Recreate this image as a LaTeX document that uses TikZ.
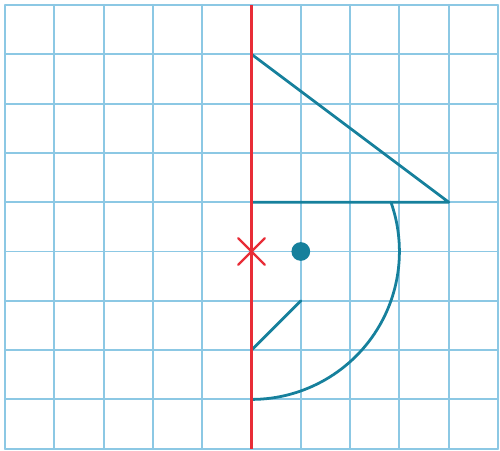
\documentclass[tikz,border=0pt]{standalone}
\definecolor{gridblue}{RGB}{140,200,228}
\definecolor{tealline}{RGB}{22,128,156}
\definecolor{axisred}{RGB}{232,45,55}
\begin{document}
\begin{tikzpicture}[line join=round, line cap=round]
	\def\xmin{0} \def\xmax{10}
	\def\ymin{0} \def\ymax{9}
	\useasboundingbox (\xmin-0.1,\ymin-0.04) rectangle (\xmax+0.04,\ymax+0.1);
	\draw[color=gridblue,line width=1.1pt] (\xmin,\ymin) grid (\xmax,\ymax);
	% hat
	\coordinate (A) at (5,8);
	\coordinate (B) at (9,5);
	\coordinate (C) at (5,5);
	\draw[tealline,line width=1.6pt] (A)--(B)--(C);
	% face
	\draw[tealline,line width=1.6pt] (5,1) arc (-90:{asin(1/3)}:3);
	\fill[tealline] (6,4) circle (0.19);
	\draw[tealline,line width=1.6pt] (5,2)--(6,3);
	% axis of symmetry
	\draw[axisred,line width=1.4pt,line cap=butt] (5,\ymin)--(5,\ymax);
	\draw[axisred,line width=1.3pt] (4.73,3.73)--(5.27,4.27) (4.73,4.27)--(5.27,3.73);
\end{tikzpicture}
\end{document}
